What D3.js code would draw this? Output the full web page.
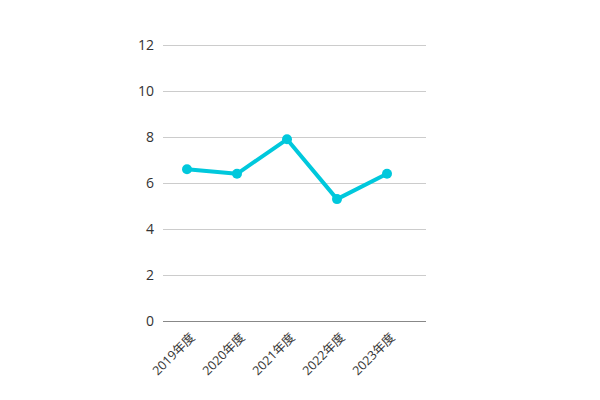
<!DOCTYPE html>
<html><head><meta charset="utf-8">
<script src="https://cdn.jsdelivr.net/npm/d3@7"></script>
<style>body{margin:0;background:#fff}svg{display:block}</style>
</head><body>
<svg id="c" width="600" height="400"></svg>
<script>
const categories = ["2019年度","2020年度","2021年度","2022年度","2023年度"];
const values = [6.6, 6.4, 7.9, 5.3, 6.4];
const yTicks = [0, 2, 4, 6, 8, 10, 12];

(function(){
const svg = d3.select("#c");
const font = "'Open Sans','Noto Sans CJK JP',sans-serif";
const mLeft = 163, mRight = 426, mTop = 45, mBottom = 321;
const x = d3.scalePoint().domain(categories).range([187, 387]);
const y = d3.scaleLinear().domain([0, 12]).range([mBottom, mTop]);

const yAxis = svg.append("g").attr("transform", `translate(${mLeft},0)`)
  .call(d3.axisLeft(y).tickValues(yTicks).tickSize(-(mRight-mLeft)).tickPadding(9));
yAxis.select(".domain").remove();
yAxis.selectAll(".tick line").attr("stroke", "#cccccc").attr("stroke-width", 1);
yAxis.selectAll(".tick").filter(d => d === 0).select("line").attr("stroke", "#888").attr("stroke-width", 1.2);
yAxis.selectAll("text").attr("font-family", font).attr("font-size", 14).attr("fill", "#333");

const xAxis = svg.append("g").attr("transform", `translate(0,${mBottom})`)
  .call(d3.axisBottom(x).tickSize(0).tickPadding(0));
xAxis.select(".domain").remove();
xAxis.selectAll("text")
  .attr("font-family", font).attr("font-size", 12.5).attr("fill", "#333")
  .attr("text-anchor", "end").attr("dy", "0.35em")
  .attr("transform", "translate(5,14) rotate(-45)");

const line = d3.line().x((d,i) => x(categories[i])).y(d => y(d));
svg.append("path").datum(values).attr("d", line)
  .attr("fill", "none").attr("stroke", "#00c8dc").attr("stroke-width", 4).attr("stroke-linejoin", "round");
svg.selectAll("circle.pt").data(values).join("circle").attr("class", "pt")
  .attr("cx", (d,i) => x(categories[i])).attr("cy", d => y(d)).attr("r", 5).attr("fill", "#00c8dc");
})();
</script>
</body></html>
